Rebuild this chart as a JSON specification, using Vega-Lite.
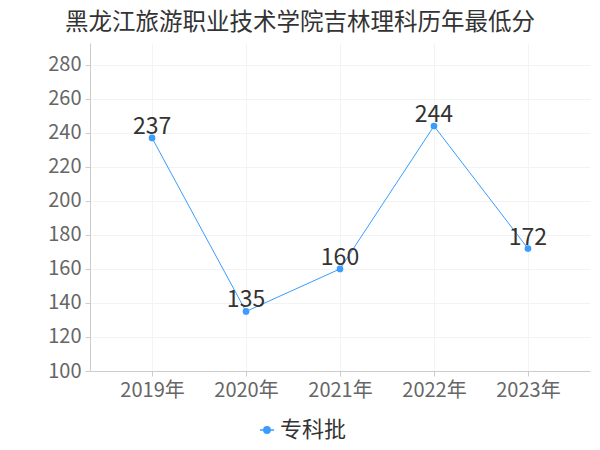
{
  "$schema": "https://vega.github.io/schema/vega-lite/v6.json",
  "width": 500,
  "height": 328,
  "autosize": {"type": "none"},
  "padding": {"left": 90, "top": 43, "right": 10, "bottom": 79},
  "background": "white",
  "config": {"font": "Noto Sans CJK SC", "view": {"stroke": null}},
  "title": {"text": "黑龙江旅游职业技术学院吉林理科历年最低分", "fontSize": 23.5, "fontWeight": "normal", "color": "#333", "anchor": "middle", "dx": -40, "offset": 9},
  "data": {"values": [
    {"year": "2019年", "score": 237, "batch": "专科批"},
    {"year": "2020年", "score": 135, "batch": "专科批"},
    {"year": "2021年", "score": 160, "batch": "专科批"},
    {"year": "2022年", "score": 244, "batch": "专科批"},
    {"year": "2023年", "score": 172, "batch": "专科批"}
  ]},
  "encoding": {
    "x": {"field": "year", "type": "ordinal", "scale": {"type": "point", "padding": 0.66},
      "axis": {"title": null, "labelAngle": 0, "labelFontSize": 20, "labelColor": "#666", "domainColor": "#ccc", "tickColor": "#ccc", "tickSize": 5, "grid": true, "gridColor": "#f3f3f3", "labelPadding": 4}},
    "y": {"field": "score", "type": "quantitative", "scale": {"domain": [100, 292.8], "nice": false},
      "axis": {"title": null, "values": [100,120,140,160,180,200,220,240,260,280], "labelFontSize": 20, "labelColor": "#666", "domainColor": "#ccc", "tickColor": "#ccc", "tickSize": 5, "gridColor": "#f3f3f3", "labelPadding": 4}}
  },
  "layer": [
    {"mark": {"type": "line", "color": "#3a9cff", "strokeWidth": 1,
      "point": {"filled": true, "size": 45, "color": "#3a9cff"}},
     "encoding": {"color": {"field": "batch", "type": "nominal", "scale": {"range": ["#3a9cff"]},
       "legend": {"title": null, "orient": "none", "legendX": 166, "legendY": 376, "labelFontSize": 22, "labelColor": "#333",
         "symbolType": "M -0.45,0 A 0.45,0.45 0 1,1 0.45,0 A 0.45,0.45 0 1,1 -0.45,0 Z M -1,0 L 1,0", "symbolSize": 200, "symbolStrokeWidth": 1.5, "symbolFillColor": "#3a9cff", "symbolStrokeColor": "#3a9cff", "labelOffset": 2}}}},
    {"mark": {"type": "text", "baseline": "bottom", "dy": 1, "fontSize": 23, "color": "#333"},
     "encoding": {"text": {"field": "score", "type": "quantitative"}}}
  ]
}
